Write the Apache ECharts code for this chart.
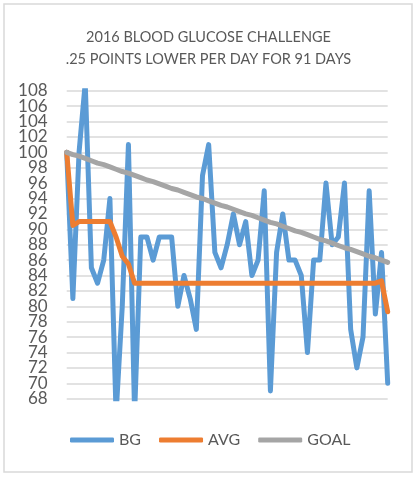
<!DOCTYPE html>
<html>
<head>
<meta charset="utf-8">
<script src="https://cdn.jsdelivr.net/npm/echarts@6/dist/echarts.min.js"></script>
<style>
html,body{margin:0;padding:0;background:#fff;}
#c{width:417px;height:479px;}
</style>
</head>
<body>
<div id="c"></div>
<script>
var titleLines = ['2016 BLOOD GLUCOSE CHALLENGE', '.25 POINTS LOWER PER DAY FOR 91 DAYS'];
var seriesNames = ['BG', 'AVG', 'GOAL'];
var days = [];
for (var d = 1; d <= 53; d++) days.push(String(d));

var bg = [100, 81, 100, 109, 85, 83, 86, 94, 66, 80,
          101, 66, 89, 89, 86, 89, 89, 89, 80, 84,
          81, 77, 97, 101, 87, 85, 88, 92, 88, 91,
          84, 86, 95, 69, 87, 92, 86, 86, 84, 74,
          86, 86, 96, 88, 89, 96, 77, 72, 76, 95,
          79, 87, 70];
var avg = [100, 90.5, 91, 91, 91, 91, 91, 91, 89, 86.5,
           85.5, 83, 83, 83, 83, 83, 83, 83, 83, 83,
           83, 83, 83, 83, 83, 83, 83, 83, 83, 83,
           83, 83, 83, 83, 83, 83, 83, 83, 83, 83,
           83, 83, 83, 83, 83, 83, 83, 83, 83, 83,
           83, 83.3, 79.3];
var goal = [100, 99.7, 99.5, 99.2, 98.9, 98.6, 98.4, 98.1, 97.8, 97.5,
            97.3, 97.0, 96.7, 96.4, 96.2, 95.9, 95.6, 95.3, 95.1, 94.8,
            94.5, 94.2, 94.0, 93.7, 93.4, 93.1, 92.9, 92.6, 92.3, 92.0,
            91.8, 91.5, 91.2, 90.9, 90.7, 90.4, 90.1, 89.8, 89.6, 89.3,
            89.0, 88.7, 88.5, 88.2, 87.9, 87.6, 87.4, 87.1, 86.8, 86.5,
            86.3, 86.0, 85.7];
var yTicks = [68, 70, 72, 74, 76, 78, 80, 82, 84, 86, 88, 90, 92, 94, 96, 98, 100, 102, 104, 106, 108];
var yMin = 68, yMax = 108, yStep = 2;
var colors = ['#5b9bd5', '#ed7d31', '#a5a5a5'];

var font = 'Lato, "Open Sans", sans-serif';
var chart = echarts.init(document.getElementById('c'), null, {renderer: 'canvas'});
function line(name, data, color) {
  return {
    name: name, type: 'line', data: data, symbol: 'none', smooth: false,
    clip: true,
    lineStyle: {color: color, width: 5, join: 'round', cap: 'round'},
    itemStyle: {color: color}
  };
}
var gridLeft = 66.7;
chart.setOption({
  animation: false,
  backgroundColor: '#fff',
  color: colors,
  title: {
    text: titleLines.join('\n'),
    left: 'center', top: 21,
    textStyle: {fontFamily: font, fontSize: 14.5, fontWeight: 'normal', color: '#595959', lineHeight: 22}
  },
  legend: {
    data: seriesNames,
    left: 70, top: 432, padding: 0,
    icon: 'roundRect',
    itemWidth: 44, itemHeight: 5, itemGap: 18,
    textStyle: {fontFamily: font, fontSize: 16, color: '#595959'}
  },
  grid: {left: gridLeft, right: 29.3, top: 90.7, bottom: 80.3, containLabel: false},
  xAxis: {
    type: 'category', data: days, boundaryGap: false,
    axisLine: {show: false}, axisTick: {show: false}, axisLabel: {show: false},
    splitLine: {show: false}
  },
  yAxis: {
    type: 'value', min: yMin, max: yMax, interval: yStep,
    axisLine: {show: false}, axisTick: {show: false},
    axisLabel: {show: false},
    splitLine: {lineStyle: {color: '#d9d9d9', width: 1.5}}
  },
  series: [
    line(seriesNames[0], bg, colors[0]),
    line(seriesNames[1], avg, colors[1]),
    line(seriesNames[2], goal, colors[2])
  ]
});
var g = [{
  type: 'rect', silent: true, z: -10,
  shape: {x: 4, y: 4, width: 408, height: 468},
  style: {fill: 'none', stroke: '#d9d9d9', lineWidth: 1.5}
}];
yTicks.forEach(function (v) {
  var py = chart.convertToPixel({yAxisIndex: 0}, v);
  g.push({
    type: 'text', silent: true,
    x: gridLeft - 19, y: py,
    style: {text: String(v), fill: '#595959', font: '17px ' + font, align: 'right', verticalAlign: 'middle'}
  });
});
chart.setOption({graphic: g});
</script>
</body>
</html>
